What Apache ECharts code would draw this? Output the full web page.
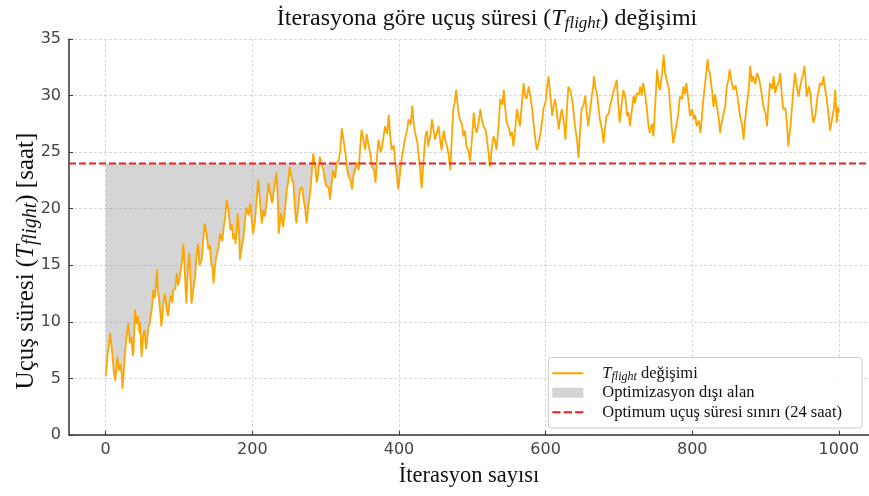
<!DOCTYPE html>
<html>
<head>
<meta charset="utf-8">
<script src="https://cdn.jsdelivr.net/npm/echarts@6/dist/echarts.min.js"></script>
<style>
  html, body { margin: 0; padding: 0; background: #fff; }
  #chart { width: 869px; height: 496px; }
</style>
</head>
<body>
<div id="chart"></div>
<script>
// values (iteration -> flight time in hours)
const ITERATIONS = [
  0, 2, 3, 5, 6, 8, 9, 11, 13, 15, 16, 18, 20, 22, 23, 25, 26, 28, 31, 33,
  35, 37, 38, 39, 40, 42, 44, 46, 47, 48, 49, 51, 53, 55, 56, 58, 60, 63, 65, 67,
  70, 71, 73, 75, 76, 79, 81, 83, 85, 87, 89, 91, 92, 95, 97, 99, 101, 104, 106, 108,
  110, 112, 114, 116, 117, 120, 122, 124, 126, 128, 131, 133, 135, 138, 140, 142, 144, 146, 147, 149,
  151, 154, 156, 159, 161, 163, 165, 168, 170, 172, 174, 176, 177, 179, 180, 182, 183, 186, 188, 190,
  192, 195, 197, 199, 201, 203, 204, 206, 208, 211, 213, 215, 217, 220, 222, 225, 227, 230, 233, 235,
  236, 239, 242, 245, 247, 249, 251, 254, 256, 258, 260, 263, 265, 268, 270, 272, 274, 277, 279, 281,
  283, 286, 288, 290, 292, 295, 297, 299, 301, 304, 306, 308, 310, 313, 315, 318, 320, 322, 325, 327,
  329, 331, 334, 336, 338, 340, 343, 345, 347, 349, 352, 354, 356, 358, 361, 363, 366, 368, 370, 372,
  375, 377, 379, 381, 384, 386, 388, 390, 393, 395, 397, 399, 402, 404, 406, 408, 411, 413, 416, 418,
  420, 422, 425, 427, 429, 431, 434, 436, 438, 440, 443, 445, 447, 449, 452, 454, 456, 458, 461, 463,
  466, 468, 470, 472, 474, 476, 478, 481, 483, 486, 488, 490, 492, 495, 497, 500, 502, 504, 506, 509,
  511, 513, 515, 518, 520, 522, 524, 527, 529, 531, 533, 536, 538, 541, 543, 545, 547, 550, 552, 554,
  556, 559, 561, 563, 565, 568, 570, 572, 574, 577, 579, 582, 584, 586, 588, 591, 593, 595, 597, 600,
  602, 604, 607, 609, 611, 613, 616, 618, 620, 622, 625, 627, 629, 631, 634, 636, 638, 640, 643, 645,
  647, 649, 652, 654, 656, 658, 661, 663, 665, 666, 668, 670, 672, 674, 677, 679, 681, 683, 686, 688,
  690, 692, 695, 697, 699, 701, 704, 706, 709, 711, 713, 715, 718, 720, 722, 724, 727, 729, 731, 733,
  736, 738, 740, 742, 745, 747, 750, 752, 754, 756, 759, 761, 763, 765, 768, 770, 772, 774, 777, 779,
  781, 783, 786, 788, 790, 792, 795, 797, 800, 802, 804, 806, 809, 811, 813, 815, 818, 821, 822, 824,
  827, 829, 831, 833, 836, 838, 840, 842, 845, 847, 849, 851, 854, 856, 859, 861, 863, 865, 868, 870,
  872, 874, 877, 879, 881, 883, 886, 888, 891, 893, 895, 897, 900, 902, 904, 906, 909, 911, 913, 915,
  918, 920, 922, 924, 927, 929, 931, 934, 936, 938, 940, 943, 945, 947, 949, 951, 953, 955, 956, 959,
  961, 963, 965, 968, 970, 972, 974, 977, 979, 981, 983, 986, 988, 991, 993, 995, 997, 999, 1000
];
const FLIGHT_TIME = [
  5.2, 6.6, 7.3, 8.2, 9.0, 7.9, 7.2, 5.6, 4.8, 6.2, 6.9, 5.7, 6.3, 5.3, 4.1, 5.9, 6.9, 8.4, 9.9, 8.1,
  8.7, 7.0, 7.5, 9.2, 11.1, 9.8, 10.5, 9.0, 9.9, 8.3, 6.9, 8.7, 9.3, 7.6, 8.1, 9.4, 9.9, 11.2, 12.8, 12.1,
  14.6, 12.9, 11.9, 10.4, 9.6, 11.8, 12.5, 11.2, 10.5, 11.6, 12.3, 11.7, 12.8, 12.9, 14.3, 13.2, 14.0, 15.3, 16.9, 14.2,
  11.6, 14.5, 16.1, 13.4, 11.6, 13.1, 14.0, 15.9, 16.9, 15.0, 15.5, 17.2, 18.7, 17.6, 16.4, 16.8, 15.2, 14.6, 13.4, 14.9,
  15.8, 16.6, 17.8, 17.1, 18.4, 19.2, 20.8, 19.6, 18.1, 18.6, 17.3, 17.8, 16.9, 18.2, 19.6, 17.9, 15.5, 16.8, 17.5, 19.0,
  20.1, 19.4, 20.5, 19.1, 17.8, 18.6, 19.3, 20.9, 22.6, 20.2, 18.7, 19.9, 19.3, 20.8, 22.3, 21.1, 20.5, 21.9, 23.2, 20.4,
  17.8, 19.6, 18.4, 20.2, 21.7, 22.4, 23.7, 22.6, 22.3, 20.1, 18.7, 20.4, 21.7, 21.9, 20.8, 20.0, 18.7, 20.6, 21.4, 23.1,
  24.9, 23.5, 22.3, 23.2, 24.6, 23.8, 23.4, 22.5, 22.0, 21.9, 20.8, 22.1, 23.4, 22.7, 24.0, 24.3, 25.2, 27.1, 25.8, 24.9,
  23.6, 22.9, 22.5, 21.7, 23.0, 22.9, 24.1, 23.4, 25.3, 27.0, 25.9, 25.2, 26.6, 25.8, 24.8, 23.7, 23.4, 22.3, 24.5, 26.1,
  25.0, 25.5, 26.4, 27.3, 26.6, 28.3, 26.5, 25.2, 25.6, 24.0, 23.1, 21.7, 23.4, 24.6, 25.3, 26.1, 26.9, 27.9, 27.4, 29.1,
  27.6, 26.7, 25.9, 24.6, 23.4, 21.8, 24.7, 26.4, 26.9, 25.5, 26.6, 27.9, 27.0, 26.1, 26.8, 27.3, 26.2, 25.2, 26.9, 26.1,
  25.4, 24.6, 23.4, 26.2, 28.8, 29.4, 30.5, 28.6, 27.9, 27.4, 26.4, 26.9, 25.5, 25.1, 24.2, 26.6, 28.5, 27.2, 26.7, 27.8,
  28.8, 27.9, 27.3, 27.0, 26.1, 25.0, 23.7, 25.6, 26.4, 26.0, 25.2, 27.5, 29.7, 29.2, 30.5, 28.8, 27.6, 27.1, 26.4, 26.8,
  25.5, 27.4, 28.8, 28.0, 27.3, 29.6, 31.1, 30.0, 29.7, 30.8, 30.0, 28.6, 27.3, 26.1, 25.2, 26.0, 26.7, 27.6, 28.8, 29.5,
  30.8, 31.7, 29.6, 28.2, 29.2, 29.7, 28.1, 27.0, 28.1, 28.8, 27.6, 26.1, 28.7, 30.8, 30.4, 29.7, 28.6, 27.3, 26.0, 24.5,
  26.9, 28.8, 29.2, 30.0, 28.5, 27.3, 28.9, 30.0, 30.9, 31.7, 30.6, 30.2, 29.0, 27.9, 26.9, 25.8, 27.1, 28.2, 28.4, 29.1,
  29.6, 30.2, 30.9, 31.4, 29.3, 27.6, 29.4, 30.5, 29.7, 28.2, 28.5, 27.3, 28.9, 30.0, 29.3, 30.2, 30.1, 30.8, 30.0, 31.1,
  30.0, 28.8, 27.5, 26.7, 27.5, 26.4, 29.8, 32.3, 31.0, 30.5, 32.1, 33.6, 32.0, 31.4, 30.6, 29.0, 27.2, 25.8, 26.9, 27.6,
  28.4, 29.9, 29.7, 30.8, 30.1, 31.1, 29.4, 28.2, 28.8, 27.9, 28.3, 27.3, 27.8, 26.7, 28.0, 29.6, 31.4, 33.2, 32.4, 32.0,
  30.4, 29.0, 30.1, 29.3, 28.0, 26.7, 27.6, 28.2, 29.1, 30.8, 31.3, 32.3, 31.1, 30.5, 30.9, 30.2, 29.4, 28.2, 27.4, 26.1,
  27.8, 29.0, 30.6, 32.6, 31.2, 31.7, 31.0, 32.0, 31.5, 30.8, 30.0, 29.0, 28.4, 27.3, 29.5, 31.1, 30.6, 31.7, 30.2, 30.8,
  31.2, 32.0, 30.1, 28.8, 28.9, 27.6, 25.5, 27.4, 29.0, 30.7, 32.0, 30.6, 29.9, 30.8, 31.4, 31.8, 32.6, 31.0, 29.9, 30.8,
  30.2, 28.7, 27.6, 28.3, 29.6, 30.3, 31.1, 30.9, 31.7, 30.6, 29.9, 28.2, 26.9, 28.1, 28.8, 30.5, 27.6, 29.0, 28.5
];
const LIMIT_HOURS = 24;
const X_TICKS = [0, 200, 400, 600, 800, 1000];
const X_RANGE = [-50, 1041];

const SERIF = "'Liberation Serif', 'DejaVu Serif', serif";
const SANS = "'DejaVu Sans', sans-serif";
const FILL_GRAY = "rgba(128,128,128,0.33)";

const chart = echarts.init(document.getElementById("chart"), null, { renderer: "canvas" });

const linePoints = ITERATIONS.map((x, i) => [x, FLIGHT_TIME[i]]);

const mathRich = (size, subRatio) => ({
  it: { fontFamily: SERIF, fontStyle: "italic", fontSize: size, color: "#111" },
  sub: {
    fontFamily: SERIF, fontStyle: "italic", fontSize: Math.round(size * (subRatio || 0.72)), color: "#111",
    padding: [Math.round(size * 0.4), 0, 0, 0],
  },
});

// area between the curve and the 24 h limit, only where the curve is under it
function renderGap(params, api) {
  const lower = ITERATIONS.map((x, i) => api.coord([x, Math.min(FLIGHT_TIME[i], LIMIT_HOURS)]));
  const upper = ITERATIONS.slice().reverse().map((x) => api.coord([x, LIMIT_HOURS]));
  return {
    type: "polygon",
    shape: { points: lower.concat(upper) },
    style: { fill: FILL_GRAY },
  };
}

const gridLine = { show: true, lineStyle: { color: "#d9d9d9", type: [3, 2], width: 1 } };
const spine = { show: true, onZero: false, lineStyle: { color: "#333", width: 1.5 } };

const option = {
  animation: false,
  title: {
    text: "İterasyona göre uçuş süresi ({it|T}{sub|flight}) değişimi",
    left: 482,
    textAlign: "center",
    top: 0,
    textStyle: {
      fontFamily: SERIF, fontSize: 24, fontWeight: "normal", color: "#111",
      rich: mathRich(24),
    },
  },
  graphic: [
    {
      type: "text",
      x: 26,
      y: 261,
      rotation: Math.PI / 2,
      style: {
        text: "Uçuş süresi ({it|T}{sub|flight}) [saat]",
        fontFamily: SERIF,
        fontSize: 25,
        fill: "#111",
        align: "center",
        verticalAlign: "middle",
        rich: mathRich(25, 0.8),
      },
    },
  ],
  grid: { left: 69, right: 0, top: 39, bottom: 61, containLabel: false },
  legend: {
    orient: "vertical",
    right: 7,
    bottom: 68,
    itemWidth: 31,
    itemHeight: 10,
    itemGap: 0,
    padding: [6, 20, 6, 4],
    backgroundColor: "rgba(255,255,255,0.85)",
    borderColor: "#cccccc",
    borderWidth: 1,
    borderRadius: 3,
    textStyle: {
      fontFamily: SERIF, fontSize: 16.5, color: "#111", lineHeight: 19.5,
      padding: [0, 0, 0, 14],
      rich: mathRich(16.5),
    },
    formatter: (name) => (name === "tflight" ? "{it|T}{sub|flight} değişimi" : name),
    data: [
      { name: "tflight", icon: "path://M0,0h30v2h-30z", itemStyle: { color: "#FFA500" } },
      { name: "Optimizasyon dışı alan", icon: "rect", itemStyle: { color: "#d4d4d4" } },
      {
        name: "Optimum uçuş süresi sınırı (24 saat)",
        icon: "path://M0,0h8v2h-8zM11,0h8v2h-8zM22,0h8v2h-8z",
        itemStyle: { color: "#f01e1e" },
      },
    ],
  },
  xAxis: {
    type: "value",
    min: X_RANGE[0],
    max: X_RANGE[1],
    name: "İterasyon sayısı",
    nameLocation: "middle",
    nameGap: 30,
    nameTextStyle: { fontFamily: SERIF, fontSize: 22.5, color: "#111" },
    axisLine: spine,
    axisTick: { show: true, inside: true, length: 4, customValues: X_TICKS, lineStyle: { color: "#333" } },
    axisLabel: {
      customValues: X_TICKS, fontFamily: SANS, fontSize: 16, color: "#444", margin: 7,
      formatter: (v) => String(v),
    },
    splitLine: gridLine,
  },
  yAxis: {
    type: "value",
    min: 0,
    max: 35,
    interval: 5,
    axisLine: spine,
    axisTick: { show: true, inside: true, length: 4, lineStyle: { color: "#333" } },
    axisLabel: { fontFamily: SANS, fontSize: 16, color: "#444", margin: 8 },
    splitLine: gridLine,
  },
  series: [
    {
      name: "Optimizasyon dışı alan",
      type: "custom",
      renderItem: renderGap,
      data: [[0, LIMIT_HOURS]],
      encode: { x: 0, y: 1 },
      itemStyle: { color: "#d4d4d4" },
      silent: true,
      z: 1,
    },
    {
      name: "tflight",
      type: "line",
      data: linePoints,
      symbol: "none",
      color: "#FFA500",
      lineStyle: { color: "#FFA500", width: 1.8 },
      z: 3,
    },
    {
      name: "Optimum uçuş süresi sınırı (24 saat)",
      type: "line",
      data: [[X_RANGE[0], LIMIT_HOURS], [X_RANGE[1], LIMIT_HOURS]],
      symbol: "none",
      color: "#f01e1e",
      lineStyle: { color: "#f01e1e", width: 2, type: [7, 3] },
      z: 4,
    },
  ],
};

chart.setOption(option);
</script>
</body>
</html>
